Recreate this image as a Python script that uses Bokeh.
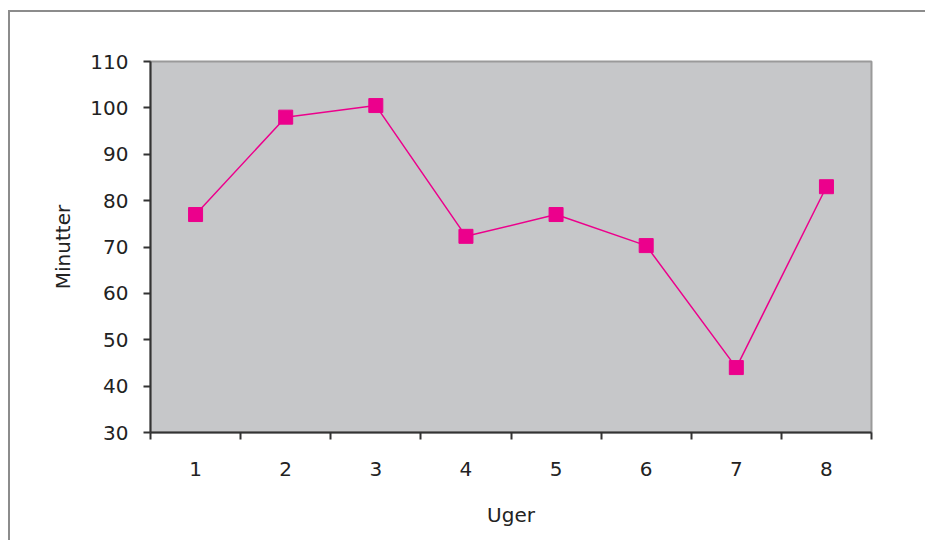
from bokeh.plotting import figure
from bokeh.models import Range1d, FixedTicker
from bokeh.embed import file_html
from bokeh.resources import INLINE

weeks = [1, 2, 3, 4, 5, 6, 7, 8]
minutes = [77, 98, 100.5, 72.3, 77, 70.3, 44, 83]
week_labels = ["1", "2", "3", "4", "5", "6", "7", "8"]
y_ticks = [30, 40, 50, 60, 70, 80, 90, 100, 110]

FONT = "DejaVu Sans"

p = figure(width=917, height=530, output_backend="svg", toolbar_location=None,
           x_range=Range1d(0.5, 8.5), y_range=Range1d(30, 110),
           min_border_left=140, min_border_right=56, min_border_top=49, min_border_bottom=110)
p.margin = (10, 0, 0, 8)
p.styles = {"border-top": "2px solid #8c8c8c", "border-left": "2px solid #8c8c8c"}

p.background_fill_color = "#c6c7c9"
p.border_fill_color = "white"
p.outline_line_color = "#9a9a9a"
p.outline_line_width = 2
p.xgrid.visible = False
p.ygrid.visible = False

p.line(weeks, minutes, line_color="#ec008c", line_width=1.5)
p.scatter(weeks, minutes, marker="square", size=14, fill_color="#ec008c", line_color="#ec008c")

xa = p.xaxis[0]
xa.ticker = FixedTicker(ticks=weeks, minor_ticks=[w - 0.5 for w in weeks] + [8.5])
xa.major_label_overrides = {w: s for w, s in zip(weeks, week_labels)}
xa.major_tick_out = 0
xa.major_tick_in = 0
xa.minor_tick_out = 7
xa.minor_tick_in = 0
xa.minor_tick_line_color = "#333333"
xa.minor_tick_line_width = 2
xa.axis_line_color = "#333333"
xa.axis_line_width = 2
xa.major_label_standoff = 22
xa.axis_label = "Uger"
xa.axis_label_standoff = 24
xa.axis_label_text_font = FONT
xa.axis_label_text_font_style = "normal"
xa.axis_label_text_font_size = "20px"
xa.axis_label_text_color = "#222222"
xa.major_label_text_font = FONT
xa.major_label_text_font_size = "20px"
xa.major_label_text_color = "#222222"

ya = p.yaxis[0]
ya.ticker = FixedTicker(ticks=y_ticks, minor_ticks=[])
ya.major_tick_out = 7
ya.major_tick_in = 0
ya.major_tick_line_color = "#333333"
ya.major_tick_line_width = 2
ya.axis_line_color = "#333333"
ya.axis_line_width = 2
ya.major_label_standoff = 15
ya.axis_label = "Minutter"
ya.axis_label_standoff = 12
ya.axis_label_text_font = FONT
ya.axis_label_text_font_style = "normal"
ya.axis_label_text_font_size = "20px"
ya.axis_label_text_color = "#222222"
ya.major_label_text_font = FONT
ya.major_label_text_font_size = "20px"
ya.major_label_text_color = "#222222"

open("out.html", "w").write(file_html(p, INLINE))
